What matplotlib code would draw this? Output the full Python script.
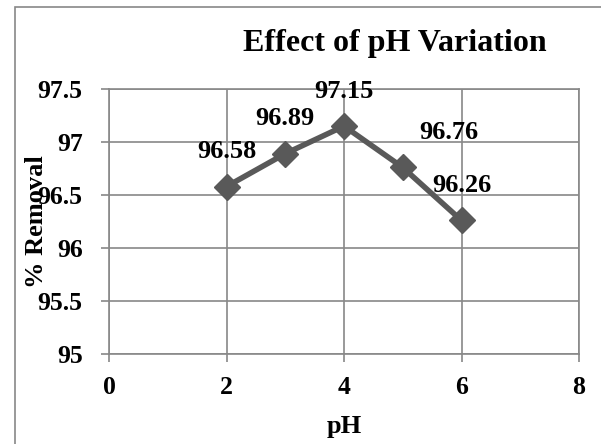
import matplotlib.pyplot as plt
from matplotlib.patches import Rectangle

plt.rcParams['font.family'] = ['Liberation Serif', 'DejaVu Serif']
plt.rcParams['font.weight'] = 'bold'

ph = [2, 3, 4, 5, 6]
removal = [96.58, 96.89, 97.15, 96.76, 96.26]
x_ticks = [0, 2, 4, 6, 8]
y_ticks = [95, 95.5, 96, 96.5, 97, 97.5]
y_tick_labels = ['95', '95.5', '96', '96.5', '97', '97.5']

fig = plt.figure(figsize=(6.01, 4.44), dpi=100)
ax = fig.add_axes([109 / 601, 1 - 354 / 444, 470 / 601, 265 / 444])

# outer border like the chart area frame
fig.patches.append(Rectangle((15 / 601, -0.1), 1.2, (444 - 7) / 444 + 0.1,
                             transform=fig.transFigure, fill=False,
                             edgecolor='#888888', linewidth=1.2))

ax.plot(ph, removal, color='#595959', linewidth=4, marker='D',
        markersize=13, zorder=3)

for x, y in zip(ph, removal):
    dx = 33 if x == 5 else 0
    ax.annotate(f'{y:.2f}', (x, y), xytext=(dx, 25), textcoords='offset points',
                ha='center', va='center', fontsize=19, fontweight='bold')

ax.set_xlim(0, 8)
ax.set_ylim(95, 97.5)
ax.set_xticks(x_ticks)
ax.set_yticks(y_ticks)
ax.set_yticklabels(y_tick_labels)
ax.grid(True, color='#888888', linewidth=1.2)
ax.set_axisbelow(True)
for s in ax.spines.values():
    s.set_color('#888888')
    s.set_linewidth(1.2)
ax.tick_params(colors='#888888', labelcolor='black', length=6, width=1.2,
               labelsize=18.5)
ax.tick_params(axis='x', pad=10)
ax.tick_params(axis='y', pad=13)
for lab in ax.get_xticklabels() + ax.get_yticklabels():
    lab.set_fontweight('bold')

ax.set_xlabel('pH', fontsize=19, fontweight='bold', va='center')
ax.set_ylabel('% Removal', fontsize=19, fontweight='bold', va='center')
ax.xaxis.set_label_coords(0.5, -0.275)
ax.yaxis.set_label_coords(-0.155, 0.5)

fig.text(395 / 601, 1 - 44 / 444, 'Effect of pH Variation', ha='center',
         va='center', fontsize=23, fontweight='bold')

fig.savefig('out.png', dpi=100)
